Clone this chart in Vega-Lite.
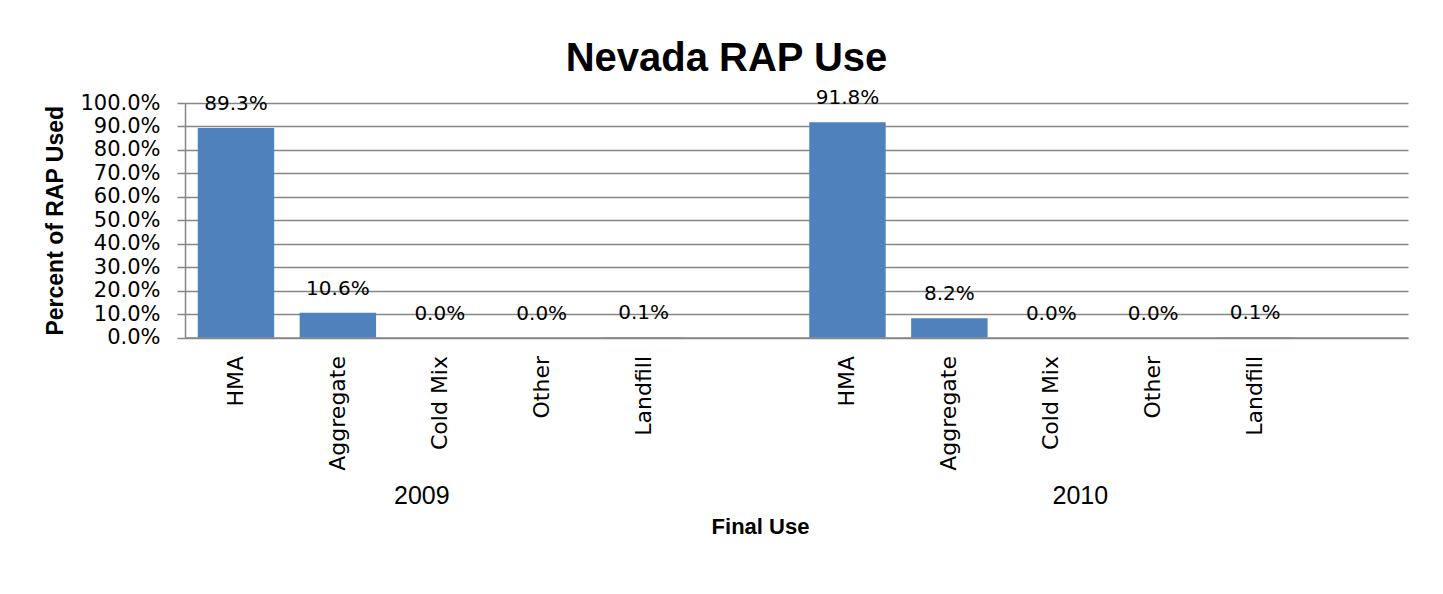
{
  "$schema": "https://vega.github.io/schema/vega-lite/v6.json",
  "autosize": "none",
  "width": 1223,
  "height": 234.5,
  "padding": {"left": 185, "top": 103, "right": 35, "bottom": 256},
  "background": "white",
  "title": {
    "text": "Nevada RAP Use",
    "font": "Liberation Sans",
    "fontSize": 40,
    "fontWeight": "bold",
    "anchor": "middle",
    "frame": "bounds",
    "offset": 9,
    "color": "black"
  },
  "config": {
    "view": {"stroke": null}
  },
  "data": {
    "values": [
      {"slot": "2009|HMA", "share": 0.893},
      {"slot": "2009|Aggregate", "share": 0.106},
      {"slot": "2009|Cold Mix", "share": 0.0},
      {"slot": "2009|Other", "share": 0.0},
      {"slot": "2009|Landfill", "share": 0.001},
      {"slot": "2010|HMA", "share": 0.918},
      {"slot": "2010|Aggregate", "share": 0.082},
      {"slot": "2010|Cold Mix", "share": 0.0},
      {"slot": "2010|Other", "share": 0.0},
      {"slot": "2010|Landfill", "share": 0.001}
    ]
  },
  "layer": [
    {
      "mark": {"type": "bar", "color": "#4F81BD"},
      "encoding": {
        "x": {
          "field": "slot",
          "type": "nominal",
          "sort": null,
          "scale": {
            "domain": ["2009|HMA", "2009|Aggregate", "2009|Cold Mix", "2009|Other", "2009|Landfill", "2009|",
                       "2010|HMA", "2010|Aggregate", "2010|Cold Mix", "2010|Other", "2010|Landfill", "2010|"],
            "paddingInner": 0.25,
            "paddingOuter": 0.125
          },
          "axis": {
            "orient": "bottom",
            "labelExpr": "split(datum.value, '|')[1]",
            "labelAngle": -90,
            "labelAlign": "right",
            "labelBaseline": "middle",
            "labelFont": "DejaVu Sans",
            "labelFontSize": 22,
            "labelColor": "black",
            "labelPadding": 18,
            "labelOverlap": false,
            "ticks": false,
            "tickSize": 0,
            "domainColor": "#868686",
            "domainWidth": 1.5,
            "grid": false,
            "title": null
          }
        },
        "y": {
          "field": "share",
          "type": "quantitative",
          "scale": {"domain": [0, 1], "nice": false},
          "axis": {
            "orient": "left",
            "values": [0, 0.1, 0.2, 0.3, 0.4, 0.5, 0.6, 0.7, 0.8, 0.9, 1.0],
            "format": ".1%",
            "labelFont": "DejaVu Sans",
            "labelFontSize": 21,
            "labelColor": "black",
            "labelPadding": 17,
            "tickSize": 8,
            "tickColor": "#868686",
            "tickWidth": 1.5,
            "domainColor": "#868686",
            "domainWidth": 1.5,
            "grid": true,
            "gridColor": "#868686",
            "gridWidth": 1.5,
            "title": "Percent of RAP Used",
            "titleFont": "Liberation Sans",
            "titleFontSize": 23,
            "titleFontWeight": "bold",
            "titleColor": "black",
            "titlePadding": 12
          }
        }
      }
    },
    {
      "mark": {"type": "text", "baseline": "alphabetic", "dy": -18, "font": "DejaVu Sans", "fontSize": 20, "color": "black"},
      "encoding": {
        "x": {
          "field": "slot",
          "type": "nominal",
          "sort": null,
          "axis": {
            "orient": "bottom",
            "labelExpr": "datum.value == '2009|Cold Mix' ? '2009' : (datum.value == '2010|Cold Mix' ? '2010' : '')",
            "labelAngle": 0,
            "labelAlign": "center",
            "labelBaseline": "top",
            "labelPadding": 146,
            "labelOffset": {"condition": {"test": "datum.value == '2009|Cold Mix'", "value": -18}, "value": 29},
            "labelFont": "Liberation Sans",
            "labelFontSize": 25,
            "labelColor": "black",
            "labelOverlap": false,
            "ticks": false,
            "tickSize": 0,
            "domain": false,
            "grid": false,
            "title": "Final Use",
            "titleFont": "Liberation Sans",
            "titleFontSize": 22,
            "titleFontWeight": "bold",
            "titleColor": "black",
            "titleX": 575,
            "titleY": 189,
            "titleBaseline": "middle",
            "titleAlign": "center"
          }
        },
        "y": {"field": "share", "type": "quantitative", "axis": null},
        "text": {"field": "share", "type": "quantitative", "format": ".1%"}
      }
    }
  ],
  "resolve": {"axis": {"x": "independent", "y": "independent"}}
}
